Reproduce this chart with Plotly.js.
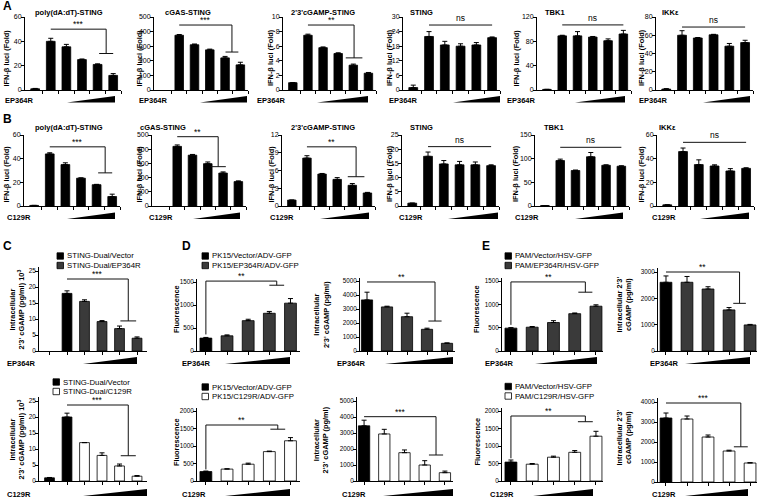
<!DOCTYPE html>
<html><head><meta charset="utf-8">
<script src="https://cdn.plot.ly/plotly-3.0.1.min.js"></script>
<style>html,body{margin:0;padding:0;background:#fff}#chart{width:760px;height:498px}</style>
</head><body><div id="chart"></div>
<script>
// ================= DATA =================
// Row A : EP364R dose series (IFN-beta luciferase, fold)
const aPolyVal  = [1, 40, 35.5, 25, 21, 12];
const aPolyErr  = [0.3, 2.5, 2, 0.5, 0.5, 1.5];
const aCgasVal  = [null, 375, 310, 275, 220, 172];
const aCgasErr  = [0, 5, 5, 5, 10, 18];
const aCgampVal = [1, 7.5, 5.8, 5.0, 3.4, 2.3];
const aCgampErr = [0, 0.15, 0.1, 0.1, 0.15, 0.1];
const aStingVal = [1, 22, 18.5, 18, 18.5, 21.5];
const aStingErr = [1, 2, 1.5, 1, 1, 0.3];
const aTbk1Val  = [1, 89, 89, 87, 81, 92];
const aTbk1Err  = [0, 1, 7, 1, 3, 6];
const aIkkVal   = [1, 60, 57, 60.5, 48, 52];
const aIkkErr   = [0.5, 5, 0.5, 0.5, 3, 2.5];
// Row B : C129R dose series
const bPolyVal  = [0.5, 44, 35, 23.5, 18, 8];
const bPolyErr  = [0, 1, 1.5, 0.3, 0.3, 2];
const bCgasVal  = [null, 420, 358, 298, 232, 172];
const bCgasErr  = [0, 10, 5, 12, 8, 5];
const bCgampVal = [1, 8.1, 5.4, 4.5, 3.5, 2.2];
const bCgampErr = [0, 0.4, 0.1, 0.3, 0.3, 0.1];
const bStingVal = [1, 17.5, 14.8, 14.5, 14.5, 14.2];
const bStingErr = [0, 1.5, 1.2, 1.2, 1, 0.3];
const bTbk1Val  = [1, 96, 75, 104, 86, 84];
const bTbk1Err  = [0, 3, 1, 9, 1, 1];
const bIkkVal   = [1, 46, 35, 33.8, 29.6, 31.8];
const bIkkErr   = [0, 3, 4, 1, 2, 0.5];
// Panel C : intracellular 2'3'-cGAMP (x10^3 pg/ml)
const cEpVal  = [null, 18, 15.5, 9.2, 7, 4];
const cEpErr  = [0, 0.8, 0.5, 0.3, 0.8, 0.4];
const cC129Val = [1, 20, 12, 8, 4.7, 1.5];
const cC129Err = [0.1, 1.2, 0, 0.8, 0.6, 0.2];
// Panel D : PK15
const dEpFluoVal  = [280, 330, 660, 820, 1040];
const dEpFluoErr  = [15, 20, 30, 40, 100];
const dEpCgampVal = [3650, 3150, 2450, 1550, 550];
const dEpCgampErr = [550, 50, 250, 80, 30];
const dC129FluoVal  = [270, 340, 480, 840, 1150];
const dC129FluoErr  = [15, 10, 30, 15, 90];
const dC129CgampVal = [3450, 2940, 1770, 1000, 520];
const dC129CgampErr = [350, 290, 170, 270, 100];
// Panel E : PAM
const eEpFluoVal  = [490, 510, 610, 800, 960];
const eEpFluoErr  = [10, 15, 40, 15, 30];
const eEpCgampVal = [2610, 2610, 2355, 1560, 990];
const eEpCgampErr = [240, 220, 85, 90, 20];
const eC129FluoVal  = [540, 480, 680, 820, 1280];
const eC129FluoErr  = [60, 20, 30, 50, 140];
const eC129CgampVal = [3200, 3150, 2250, 1550, 950];
const eC129CgampErr = [250, 150, 100, 40, 20];

// ================= STYLE / LAYOUT =================
const W = 760, H = 498;
const PX = v => v / W, PY = v => 1 - v / H;
const K = '#000000', G = '#3a3a3a', Wt = '#ffffff';
const FONT = 'Liberation Sans, Arial, sans-serif';
const IFN = 'IFN-β luci (Fold)';
const CG2 = "Intracellular<br>2'3' cGAMP (pg/ml) 10<sup>3</sup>";
const CGD = "Intracellular<br>2'3' cGAMP (pg/ml)";
const CGE = "Intracellular 2'3'<br>cGAMP (pg/ml)";

const panels = [
 // ---- row A
 {vals:aPolyVal, errs:aPolyErr, col:K, left:25, right:121, xr:[0.35,6.5], zero:90, top:17, ymax:60, dt:20, st:'x',
  title:'poly(dA:dT)-STING', tx:33, ty:13, yl:IFN, ylx:5.5, yly:58, tr:'EP364R', trx:3, try:100, wd:[67,115,96,102.5],
  sig:{t:'***', x0:2, x1:5.55, y:50, yd:30, cw:0.45}},
 {vals:aCgasVal, errs:aCgasErr, col:K, left:154, right:248, xr:[0.35,6.5], zero:90, top:17, ymax:500, dt:100, st:'x',
  title:'cGAS-STING', tx:163, ty:13, yl:IFN, ylx:138.5, yly:58, tr:'EP364R', trx:137, try:100, wd:[200,247,96,102.5],
  sig:{t:'***', x0:2, x1:5.45, y:445, yd:260, cw:0.42}},
 {vals:aCgampVal, errs:aCgampErr, col:K, left:283, right:376, xr:[0.35,6.5], zero:90, top:17, ymax:10, dt:2, st:'x',
  title:"2'3'cGAMP-STING", tx:289, ty:13, yl:IFN, ylx:270, yly:58, tr:'EP364R', trx:255, try:100, wd:[317,368,96,102.5],
  sig:{t:'**', x0:2, x1:5.05, y:8.9, yd:4.4, cw:0.55}},
 {vals:aStingVal, errs:aStingErr, col:K, left:403, right:500, xr:[0.35,6.5], zero:90, top:17, ymax:30, dt:6, st:'x',
  title:'STING', tx:408, ty:13, yl:IFN, ylx:389, yly:58, tr:'EP364R', trx:387, try:100, wd:[453,500,96,102.5],
  sig:{t:'ns', x0:2, x1:6, y:26.7}},
 {vals:aTbk1Val, errs:aTbk1Err, col:K, left:537, right:631, xr:[0.35,6.5], zero:90, top:17, ymax:120, dt:40, st:'x',
  title:'TBK1', tx:543, ty:13, yl:IFN, ylx:515.5, yly:58, tr:'EP364R', trx:505, try:100, wd:[575,625,96,102.5],
  sig:{t:'ns', x0:2, x1:6, y:107}},
 {vals:aIkkVal, errs:aIkkErr, col:K, left:656, right:753, xr:[0.35,6.5], zero:90, top:17, ymax:80, dt:20, st:'x',
  title:'IKKε', tx:660, ty:13, yl:IFN, ylx:641, yly:58, tr:'EP364R', trx:637, try:100, wd:[703,750,96,102.5],
  sig:{t:'ns', x0:2, x1:6, y:69}},
 // ---- row B
 {vals:bPolyVal, errs:bPolyErr, col:K, left:24, right:120, xr:[0.35,6.5], zero:206, top:135, ymax:60, dt:20, st:'x',
  title:'poly(dA:dT)-STING', tx:33, ty:128, yl:IFN, ylx:5.5, yly:174, tr:'C129R', trx:5, try:217, wd:[67,115,212.5,219],
  sig:{t:'***', x0:2, x1:5.55, y:50, yd:28, cw:0.45}},
 {vals:bCgasVal, errs:bCgasErr, col:K, left:152, right:246, xr:[0.35,6.5], zero:206, top:135, ymax:500, dt:100, st:'x',
  title:'cGAS-STING', tx:138, ty:128, yl:IFN, ylx:138.5, yly:174, tr:'C129R', trx:147, try:217, wd:[193,240,212.5,219],
  sig:{t:'**', x0:2, x1:4.68, y:488, yd:277, cw:0.5}},
 {vals:bCgampVal, errs:bCgampErr, col:K, left:282, right:375, xr:[0.35,6.5], zero:206, top:135, ymax:12, dt:3, st:'x',
  title:"2'3'cGAMP-STING", tx:289, ty:128, yl:IFN, ylx:270.5, yly:174, tr:'C129R', trx:268, try:217, wd:[320,369,212.5,219],
  sig:{t:'**', x0:2, x1:5.25, y:10, yd:4.95, cw:0.55}},
 {vals:bStingVal, errs:bStingErr, col:K, left:402, right:499, xr:[0.35,6.5], zero:206, top:135, ymax:25, dt:5, st:'x',
  title:'STING', tx:408, ty:128, yl:IFN, ylx:389, yly:174, tr:'C129R', trx:397, try:217, wd:[448,498,212.5,219],
  sig:{t:'ns', x0:2, x1:6, y:20.9}},
 {vals:bTbk1Val, errs:bTbk1Err, col:K, left:535, right:629, xr:[0.35,6.5], zero:206, top:135, ymax:150, dt:50, st:'x',
  title:'TBK1', tx:542, ty:128, yl:IFN, ylx:515, yly:174, tr:'C129R', trx:513, try:217, wd:[575,623,212.5,219],
  sig:{t:'ns', x0:2, x1:6, y:124}},
 {vals:bIkkVal, errs:bIkkErr, col:K, left:657, right:754, xr:[0.35,6.5], zero:206, top:135, ymax:60, dt:20, st:'x',
  title:'IKKε', tx:657, ty:128, yl:IFN, ylx:640.5, yly:174, tr:'C129R', trx:650, try:217, wd:[700,749,212.5,219],
  sig:{t:'ns', x0:2, x1:6, y:53.8}},
 // ---- C / D / E upper (EP364R)
 {vals:cEpVal, errs:cEpErr, col:[K,K,G,G,G,G], left:39, right:147, xr:[0.4,6.57], zero:351, top:271, ymax:25, dt:5, st:'p',
  yl:CG2, ylx:16.5, yly:310, tr:'EP364R', trx:5, try:363, wd:[83,137,357,364],
  sig:{t:'***', x0:2, x1:5.5, y:22.5, yd:9.4, cw:0.45},
  leg:{x:57, y:[256,265.5], items:[['STING-Dual/Vector',K],['STING-Dual/EP364R',G]]}},
 {vals:dEpFluoVal, errs:dEpFluoErr, col:[K,G,G,G,G], left:197, right:300, xr:[0.58,5.45], zero:351, top:282, ymax:1500, dt:500, st:'p',
  yl:'Fluorescence', ylx:176, yly:309, tr:'EP364R', trx:180, try:363, wd:[225,290,357,364],
  sig:{t:'**', x0:1, yl:360, x1:4.35, y:1520, yd:1430, cw:0.35},
  leg:{x:202, y:[256,265.5], items:[['PK15/Vector/ADV-GFP',K],['PK15/EP364R/ADV-GFP',G]]}},
 {vals:dEpCgampVal, errs:dEpCgampErr, col:[K,G,G,G,G], left:360, right:455, xr:[0.65,5.4], zero:351, top:281, ymax:5000, dt:1000, st:'p',
  yl:CGD, ylx:321, yly:315, tr:'EP364R', trx:335, try:363, wd:[385,453,357,364],
  sig:{t:'**', x0:1, x1:4.4, y:4930, yd:2140, cw:0.33}},
 {vals:eEpFluoVal, errs:eEpFluoErr, col:[K,G,G,G,G], left:502, right:603, xr:[0.58,5.33], zero:351, top:281, ymax:1500, dt:500, st:'p',
  yl:'Fluorescence', ylx:476, yly:309, tr:'EP364R', trx:483, try:363, wd:[535,597,357,364],
  sig:{t:'**', x0:1, yl:560, x1:4.5, y:1480, yd:1260, cw:0.33},
  leg:{x:505, y:[256,265.5], items:[['PAM/Vector/HSV-GFP',K],['PAM/EP364R/HSV-GFP',G]]}},
 {vals:eEpCgampVal, errs:eEpCgampErr, col:[K,G,G,G,G], left:658, right:757, xr:[0.62,5.33], zero:351, top:272, ymax:3000, dt:1000, st:'p',
  yl:CGE, ylx:623.5, yly:305, tr:'EP364R', trx:648, try:363, wd:[685,750,357,364],
  sig:{t:'**', x0:1, x1:4.5, y:3000, yd:1810, cw:0.3}},
 // ---- C / D / E lower (C129R)
 {vals:cC129Val, errs:cC129Err, col:[K,K,Wt,Wt,Wt,Wt], left:39, right:147, xr:[0.4,6.57], zero:481, top:401, ymax:25, dt:5, st:'p',
  yl:CG2, ylx:16.5, yly:440, tr:'C129R', trx:5, try:494, wd:[83,147,489,496],
  sig:{t:'***', x0:2, x1:5.5, y:23.75, yd:7.9, cw:0.43},
  leg:{x:53, y:[382,391.5], items:[['STING-Dual/Vector',K],['STING-Dual/C129R',Wt]]}},
 {vals:dC129FluoVal, errs:dC129FluoErr, col:[K,Wt,Wt,Wt,Wt], left:197, right:300, xr:[0.58,5.45], zero:481, top:411, ymax:2000, dt:500, st:'p',
  yl:'Fluorescence', ylx:176, yly:442, tr:'C129R', trx:180, try:494, wd:[225,290,489,496],
  sig:{t:'**', x0:1, yl:330, x1:4.4, y:1600, yd:1480, cw:0.35},
  leg:{x:202, y:[387,396.5], items:[['PK15/Vector/ADV-GFP',K],['PK15/C129R/ADV-GFP',Wt]]}},
 {vals:dC129CgampVal, errs:dC129CgampErr, col:[K,Wt,Wt,Wt,Wt], left:357, right:453, xr:[0.65,5.4], zero:481, top:401, ymax:5000, dt:1000, st:'p',
  yl:CGD, ylx:320.5, yly:440, tr:'C129R', trx:340, try:494, wd:[383,453,489,496],
  sig:{t:'***', x0:1, x1:4.56, y:4020, yd:1625, cw:0.35}},
 {vals:eC129FluoVal, errs:eC129FluoErr, col:[K,Wt,Wt,Wt,Wt], left:502, right:603, xr:[0.58,5.33], zero:481, top:411, ymax:2000, dt:500, st:'p',
  yl:'Fluorescence', ylx:476.5, yly:442, tr:'C129R', trx:488, try:494, wd:[533,593,489,496],
  sig:{t:'**', x0:1, yl:650, x1:4.5, y:1857, yd:1694, cw:0.35},
  leg:{x:505, y:[386.5,396], items:[['PAM/Vector/HSV-GFP',K],['PAM/C129R/HSV-GFP',Wt]]}},
 {vals:eC129CgampVal, errs:eC129CgampErr, col:[K,Wt,Wt,Wt,Wt], left:658, right:757, xr:[0.62,5.33], zero:482, top:402, ymax:4000, dt:1000, st:'p',
  yl:CGE, ylx:623.5, yly:438, tr:'C129R', trx:650, try:494, wd:[685,748,489,496],
  sig:{t:'***', x0:1, x1:4.56, y:3950, yd:1760, cw:0.33}}
];

const letters = [['A',1,6],['B',1,119],['C',1,246],['D',180,246],['E',480,246]];

const data = [], shapes = [], annotations = [];
const layout = {width:W, height:H, margin:{l:0,r:0,t:0,b:0}, paper_bgcolor:'#fff', plot_bgcolor:'rgba(0,0,0,0)',
  showlegend:false, font:{family:FONT, color:'#000', size:7}, shapes, annotations};

panels.forEach((p, i) => {
  const n = i + 1;
  const xa = n === 1 ? 'x' : 'x' + n, ya = n === 1 ? 'y' : 'y' + n;
  const cats = p.vals.map((_, k) => k + 1);
  const ext = p.st === 'p' ? 1.05 : 1.0;
  const topPx = p.zero - (p.zero - p.top) * ext;
  const tv = []; for (let v = 0; v <= p.ymax + 1e-9; v += p.dt) tv.push(v);
  const xt = p.st === 'p' ? cats : cats.map(c => c + 0.5);
  layout['xaxis' + (n === 1 ? '' : n)] = {domain:[PX(p.left), PX(p.right)], range:p.xr, anchor:ya,
    showline:true, linecolor:'#000', linewidth:1, ticks:'outside', ticklen:3, tickwidth:1, tickcolor:'#000',
    tickvals:xt, showticklabels:false, showgrid:false, zeroline:false, fixedrange:true};
  layout['yaxis' + (n === 1 ? '' : n)] = {domain:[PY(p.zero), PY(topPx)], range:[0, p.ymax * ext], anchor:xa,
    showline:true, linecolor:'#000', linewidth:1, ticks:'outside', ticklen:3, tickwidth:1, tickcolor:'#000',
    tickvals:tv, ticktext:tv.map(String), ticklabelstandoff:-2,
    tickfont:{size:p.st === 'p' ? 6.3 : 7, family:FONT}, showgrid:false, zeroline:false, fixedrange:true};
  data.push({type:'bar', x:cats, y:p.vals, xaxis:xa, yaxis:ya, width:0.56, hoverinfo:'skip',
    marker:{color:p.col, line:{color:'#000', width:0.8}},
    error_y:{type:'data', symmetric:false, array:p.errs, arrayminus:p.errs.map(() => 0), color:'#000', thickness:1, width:2.5}});
  // significance bracket
  const s = p.sig, L = (x0, y0, x1, y1) => shapes.push({type:'line', xref:xa, yref:ya, x0, y0, x1, y1, line:{color:'#111', width:1}});
  if (s.yl !== undefined) L(s.x0, s.yl, s.x0, s.y);
  L(s.x0, s.y, s.x1, s.y);
  if (s.yd !== undefined) { L(s.x1, s.y, s.x1, s.yd); L(s.x1 - s.cw, s.yd, s.x1 + s.cw, s.yd); }
  annotations.push({xref:xa, yref:ya, x:(s.x0 + s.x1) / 2, y:s.y, text:s.t, showarrow:false, yanchor:'bottom',
    yshift: s.t === 'ns' ? 0 : -2, font:{size:8.5, family:FONT}});
  // titles & labels
  if (p.title) annotations.push({xref:'paper', yref:'paper', x:PX(p.tx), y:PY(p.ty), xanchor:'left', yanchor:'middle',
    text:'<b>' + p.title + '</b>', showarrow:false, font:{size:7.5, family:FONT}});
  annotations.push({xref:'paper', yref:'paper', x:PX(p.ylx), y:PY(p.yly), xanchor:'center', yanchor:'middle', textangle:-90,
    text:'<b>' + p.yl + '</b>', showarrow:false, font:{size:7.4, family:FONT}});
  annotations.push({xref:'paper', yref:'paper', x:PX(p.trx), y:PY(p.try), xanchor:'left', yanchor:'middle',
    text:'<b>' + p.tr + '</b>', showarrow:false, font:{size:7.5, family:FONT}});
  // dose wedge
  const w = p.wd;
  shapes.push({type:'path', xref:'paper', yref:'paper', fillcolor:'#000', line:{width:0},
    path:`M ${PX(w[0])},${PY(w[3])} L ${PX(w[1])},${PY(w[3])} L ${PX(w[1])},${PY(w[2])} Z`});
  // legend
  if (p.leg) p.leg.items.forEach((it, k) => {
    const cy = p.leg.y[k];
    shapes.push({type:'rect', xref:'paper', yref:'paper', x0:PX(p.leg.x), x1:PX(p.leg.x + 6.5), y0:PY(cy + 3.2), y1:PY(cy - 3.2),
      fillcolor:it[1], line:{color:'#000', width:0.8}});
    annotations.push({xref:'paper', yref:'paper', x:PX(p.leg.x + 7.5), y:PY(cy), xanchor:'left', yanchor:'middle',
      text:it[0], showarrow:false, font:{size:7.8, family:FONT}});
  });
});
letters.forEach(l => annotations.push({xref:'paper', yref:'paper', x:PX(l[1]), y:PY(l[2]), xanchor:'left', yanchor:'middle',
  text:'<b>' + l[0] + '</b>', showarrow:false, font:{size:12, family:FONT}}));

Plotly.newPlot('chart', data, layout, {staticPlot:true, displayModeBar:false});
</script></body></html>
